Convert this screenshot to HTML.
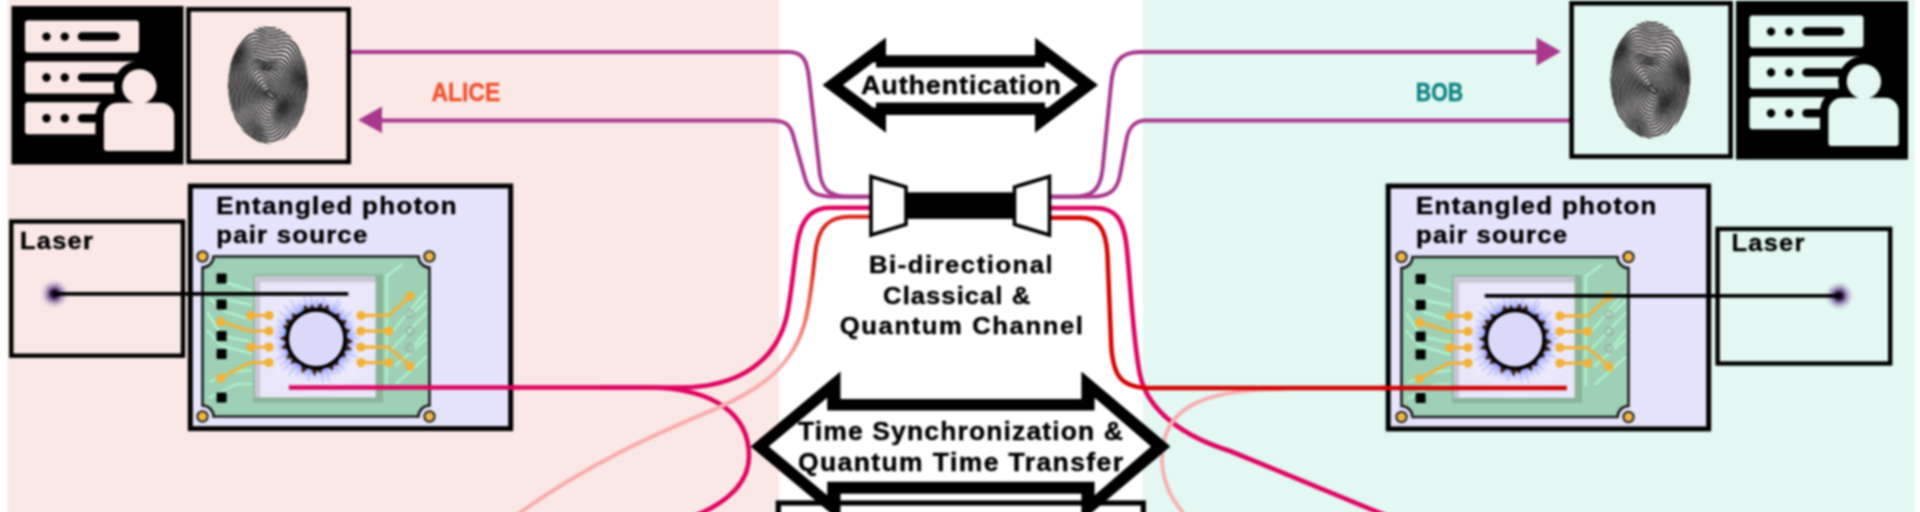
<!DOCTYPE html><html><head><meta charset="utf-8"><style>
html,body{margin:0;padding:0;width:1920px;height:512px;overflow:hidden;background:#fff;position:relative}
svg{display:block;filter:blur(0.8px)}
text{font-family:"Liberation Sans",sans-serif;font-weight:bold}
</style></head><body>
<svg width="1960" height="552" viewBox="-20 -20 1960 552" style="position:absolute;left:-20px;top:-20px">
<defs>
<radialGradient id="glow" cx="0.5" cy="0.5" r="0.5">
<stop offset="0" stop-color="#ffffff"/><stop offset="0.5" stop-color="#f2f0fd"/><stop offset="1" stop-color="#e9e6fa"/></radialGradient>
<radialGradient id="halo" cx="0.5" cy="0.5" r="0.5">
<stop offset="0.6" stop-color="#5566ff" stop-opacity="0.8"/><stop offset="0.7" stop-color="#7080ff" stop-opacity="0.45"/><stop offset="0.85" stop-color="#a4acff" stop-opacity="0.15"/><stop offset="1" stop-color="#e0e0ff" stop-opacity="0"/></radialGradient>
<radialGradient id="laser" cx="0.5" cy="0.5" r="0.5">
<stop offset="0" stop-color="#0c0610"/><stop offset="0.25" stop-color="#3a2250"/><stop offset="0.5" stop-color="#6a4c90" stop-opacity="0.6"/><stop offset="0.8" stop-color="#a890c8" stop-opacity="0.25"/><stop offset="1" stop-color="#c8b8e8" stop-opacity="0"/></radialGradient>
<clipPath id="fpclip"><ellipse cx="0" cy="0" rx="40" ry="58.5"/></clipPath>
<linearGradient id="redfade" gradientUnits="userSpaceOnUse" x1="0" y1="262" x2="0" y2="365">
<stop offset="0" stop-color="#d9261c"/><stop offset="0.45" stop-color="#ee6658"/><stop offset="1" stop-color="#f9abae"/></linearGradient>

<g id="icon">
<rect x="0" y="0" width="172" height="158.5" fill="#000"/>
<rect x="13.5" y="14.6" width="114" height="32" rx="3" fill="currentColor"/>
<circle cx="35" cy="30.6" r="4.2" fill="#000"/><circle cx="53.3" cy="30.6" r="4.2" fill="#000"/>
<line x1="70.5" y1="30.6" x2="104" y2="30.6" stroke="#000" stroke-width="8.5" stroke-linecap="round"/>
<rect x="13.5" y="55.5" width="114" height="32" rx="3" fill="currentColor"/>
<circle cx="35" cy="71.5" r="4.2" fill="#000"/><circle cx="53.3" cy="71.5" r="4.2" fill="#000"/>
<line x1="70.5" y1="71.5" x2="104" y2="71.5" stroke="#000" stroke-width="8.5" stroke-linecap="round"/>
<rect x="13.5" y="96.3" width="114" height="32" rx="3" fill="currentColor"/>
<circle cx="35" cy="112.3" r="4.2" fill="#000"/><circle cx="53.3" cy="112.3" r="4.2" fill="#000"/>
<line x1="70.5" y1="112.3" x2="104" y2="112.3" stroke="#000" stroke-width="8.5" stroke-linecap="round"/>
<circle cx="127.9" cy="80.5" r="25.7" fill="#000"/>
<rect x="83.9" y="88.3" width="87.3" height="65.2" rx="22.0" fill="#000"/>
<circle cx="127.9" cy="80.5" r="17.2" fill="currentColor"/>
<path d="M92.4,110.3 A13.5,13.5 0 0 1 105.9,96.8 L149.2,96.8 A13.5,13.5 0 0 1 162.7,110.3 L162.7,142 A3,3 0 0 1 159.7,145 L95.4,145 A3,3 0 0 1 92.4,142 Z" fill="currentColor"/>
</g>
<g id="fp"><g clip-path="url(#fpclip)">
<ellipse cx="0" cy="0" rx="40" ry="58.5" fill="#eeeaea"/>
<polyline points="6.6,10.2 6.7,10.5 6.8,10.8 6.8,11.1 6.9,11.5 6.9,11.8 6.8,12.1 6.8,12.5 6.7,12.8 6.6,13.1 6.5,13.4 6.3,13.7 6.2,14.0 6.0,14.2 5.8,14.4 5.6,14.6 5.3,14.7 5.1,14.8 4.9,14.9 4.6,15.0 4.4,15.0 4.2,15.0 4.0,15.0 3.7,14.9 3.5,14.8 3.3,14.7 3.2,14.6 3.0,14.5 2.8,14.4 2.7,14.2 2.5,14.1 2.4,13.9 2.3,13.8 2.1,13.6 2.0,13.5 1.9,13.3 1.8,13.2 1.7,13.1 1.6,13.0 1.5,12.9 1.4,12.8 1.3,12.7 1.1,12.6 1.0,12.5 0.9,12.4 0.8,12.3 0.6,12.2 0.5,12.0 0.3,11.9 0.2,11.8 -0.0,11.6 -0.2,11.4 -0.3,11.3 -0.5,11.0 -0.7,10.8 -0.8,10.6 -1.0,10.3 -1.1,10.0 -1.3,9.7 -1.4,9.4 -1.5,9.1 -1.6,8.8 -1.7,8.4 -1.8,8.1 -1.9,7.7 -1.9,7.4 -1.9,7.1 -1.9,6.8 -1.9,6.5 -1.8,6.2 -1.8,5.9 -1.7,5.7 -1.6,5.5 -1.5,5.3 -1.3,5.1 -1.2,5.0 -1.0,4.9 -0.8,4.8 -0.6,4.8 -0.4,4.7 -0.1,4.8 0.1,4.8 0.3,4.9 0.5,4.9 0.8,5.0 1.0,5.2 1.2,5.3 1.4,5.4 1.6,5.6 1.8,5.7 2.0,5.9 2.1,6.0 2.3,6.2 2.5,6.3 2.6,6.4 2.7,6.6 2.9,6.7 3.0,6.8 3.1,6.9 3.3,7.0 3.4,7.1 3.5,7.2 3.6,7.3 3.8,7.4 3.9,7.4 4.1,7.5 4.2,7.6 4.4,7.7 4.6,7.8 4.7,7.9 4.9,8.0 5.1,8.2 5.3,8.3 5.5,8.5 5.7,8.7 5.8,8.9 6.0,9.1 6.2,9.4 6.3,9.6 6.5,9.9 6.6,10.2" fill="#777" stroke="#000" stroke-width="1.6" stroke-linejoin="round"/>
<polyline points="9.0,10.0 9.1,10.5 9.2,11.0 9.2,11.5 9.2,12.0 9.2,12.5 9.1,13.0 9.0,13.5 8.8,14.0 8.7,14.5 8.4,15.0 8.2,15.4 7.9,15.9 7.6,16.3 7.3,16.6 7.0,17.0 6.6,17.3 6.3,17.5 5.9,17.7 5.5,17.9 5.2,18.0 4.8,18.1 4.5,18.2 4.1,18.2 3.8,18.2 3.5,18.1 3.2,18.1 2.9,17.9 2.6,17.8 2.3,17.7 2.1,17.5 1.8,17.3 1.6,17.2 1.3,17.0 1.1,16.8 0.9,16.6 0.7,16.3 0.5,16.1 0.3,15.9 0.1,15.7 -0.1,15.5 -0.3,15.3 -0.5,15.0 -0.7,14.8 -0.9,14.6 -1.1,14.3 -1.3,14.0 -1.5,13.7 -1.7,13.4 -2.0,13.1 -2.2,12.8 -2.4,12.4 -2.6,12.1 -2.8,11.7 -3.0,11.2 -3.2,10.8 -3.3,10.4 -3.5,9.9 -3.7,9.4 -3.8,8.9 -3.9,8.4 -4.1,7.9 -4.2,7.4 -4.2,6.8 -4.3,6.3 -4.3,5.8 -4.4,5.3 -4.4,4.9 -4.3,4.4 -4.3,4.0 -4.2,3.6 -4.1,3.2 -4.0,2.9 -3.8,2.6 -3.6,2.3 -3.4,2.1 -3.2,1.9 -3.0,1.7 -2.7,1.6 -2.4,1.5 -2.1,1.5 -1.8,1.5 -1.5,1.5 -1.2,1.5 -0.8,1.6 -0.5,1.7 -0.2,1.8 0.2,1.9 0.5,2.1 0.8,2.2 1.1,2.4 1.4,2.6 1.7,2.8 2.0,2.9 2.3,3.1 2.6,3.3 2.9,3.5 3.2,3.7 3.4,3.8 3.7,4.0 4.0,4.2 4.2,4.4 4.5,4.6 4.8,4.7 5.0,4.9 5.3,5.1 5.6,5.3 5.9,5.6 6.1,5.8 6.4,6.0 6.7,6.3 7.0,6.6 7.3,6.9 7.5,7.2 7.8,7.5 8.1,7.9 8.3,8.2 8.5,8.6 8.7,9.1 8.9,9.5 9.0,10.0" fill="none" stroke="#000" stroke-width="1.6" stroke-linejoin="round"/>
<polyline points="11.4,9.5 11.5,10.2 11.6,10.9 11.6,11.5 11.6,12.2 11.5,12.9 11.3,13.6 11.2,14.3 10.9,15.0 10.6,15.7 10.3,16.4 9.9,17.0 9.5,17.6 9.1,18.2 8.6,18.7 8.2,19.2 7.7,19.7 7.2,20.1 6.7,20.4 6.2,20.7 5.7,21.0 5.2,21.2 4.7,21.3 4.2,21.4 3.7,21.5 3.3,21.5 2.9,21.5 2.4,21.4 2.0,21.3 1.6,21.1 1.3,21.0 0.9,20.8 0.6,20.5 0.2,20.3 -0.1,20.0 -0.4,19.8 -0.7,19.5 -1.0,19.2 -1.3,18.8 -1.6,18.5 -1.9,18.2 -2.1,17.8 -2.4,17.5 -2.7,17.1 -2.9,16.7 -3.2,16.3 -3.4,15.8 -3.7,15.4 -3.9,14.9 -4.2,14.4 -4.4,13.9 -4.7,13.3 -4.9,12.8 -5.1,12.2 -5.3,11.6 -5.5,11.0 -5.7,10.3 -5.9,9.7 -6.1,9.0 -6.2,8.3 -6.4,7.6 -6.5,6.9 -6.6,6.2 -6.7,5.5 -6.8,4.9 -6.8,4.2 -6.9,3.5 -6.9,2.9 -6.8,2.3 -6.8,1.7 -6.7,1.2 -6.6,0.7 -6.5,0.2 -6.3,-0.2 -6.1,-0.5 -5.8,-0.9 -5.6,-1.2 -5.3,-1.4 -4.9,-1.6 -4.6,-1.7 -4.2,-1.8 -3.8,-1.9 -3.4,-1.9 -3.0,-1.9 -2.5,-1.8 -2.1,-1.8 -1.7,-1.7 -1.2,-1.5 -0.8,-1.4 -0.3,-1.2 0.1,-1.0 0.6,-0.8 1.0,-0.6 1.4,-0.4 1.9,-0.2 2.3,0.0 2.7,0.2 3.1,0.5 3.5,0.7 3.9,1.0 4.4,1.2 4.8,1.5 5.2,1.8 5.6,2.0 6.0,2.3 6.4,2.6 6.8,2.9 7.2,3.2 7.6,3.6 8.0,3.9 8.4,4.3 8.8,4.7 9.2,5.2 9.6,5.6 9.9,6.1 10.2,6.6 10.5,7.1 10.8,7.7 11.1,8.3 11.3,8.9 11.4,9.5" fill="none" stroke="#000" stroke-width="1.6" stroke-linejoin="round"/>
<polyline points="13.8,8.9 14.0,9.7 14.0,10.6 14.0,11.5 13.9,12.3 13.8,13.2 13.5,14.1 13.3,15.0 12.9,15.9 12.5,16.8 12.1,17.6 11.6,18.4 11.0,19.2 10.5,20.0 9.9,20.7 9.3,21.4 8.6,22.0 8.0,22.6 7.3,23.1 6.7,23.5 6.0,23.9 5.4,24.2 4.8,24.5 4.1,24.7 3.5,24.8 2.9,24.9 2.4,24.9 1.8,24.8 1.3,24.7 0.8,24.6 0.3,24.4 -0.2,24.2 -0.7,23.9 -1.1,23.6 -1.6,23.3 -2.0,23.0 -2.4,22.6 -2.8,22.2 -3.1,21.7 -3.5,21.3 -3.8,20.8 -4.2,20.3 -4.5,19.8 -4.8,19.3 -5.1,18.7 -5.4,18.2 -5.7,17.6 -6.0,17.0 -6.3,16.3 -6.5,15.6 -6.8,15.0 -7.0,14.2 -7.3,13.5 -7.5,12.7 -7.7,12.0 -7.9,11.2 -8.1,10.3 -8.3,9.5 -8.5,8.6 -8.6,7.8 -8.8,6.9 -8.9,6.0 -9.0,5.2 -9.2,4.3 -9.3,3.5 -9.3,2.6 -9.4,1.8 -9.4,1.0 -9.4,0.2 -9.4,-0.5 -9.3,-1.2 -9.2,-1.8 -9.0,-2.4 -8.8,-2.9 -8.6,-3.4 -8.3,-3.8 -8.0,-4.2 -7.6,-4.5 -7.2,-4.8 -6.8,-5.0 -6.3,-5.2 -5.8,-5.3 -5.3,-5.3 -4.8,-5.3 -4.3,-5.3 -3.7,-5.2 -3.2,-5.1 -2.6,-5.0 -2.0,-4.9 -1.5,-4.7 -0.9,-4.5 -0.3,-4.3 0.2,-4.0 0.8,-3.8 1.3,-3.6 1.9,-3.3 2.5,-3.0 3.0,-2.7 3.6,-2.4 4.1,-2.1 4.7,-1.8 5.2,-1.5 5.8,-1.1 6.3,-0.8 6.9,-0.4 7.4,-0.0 7.9,0.4 8.5,0.8 9.0,1.2 9.6,1.7 10.1,2.2 10.6,2.7 11.1,3.3 11.6,3.9 12.0,4.5 12.4,5.2 12.8,5.9 13.1,6.6 13.4,7.3 13.7,8.1 13.8,8.9" fill="none" stroke="#000" stroke-width="1.6" stroke-linejoin="round"/>
<polyline points="16.2,8.2 16.4,9.2 16.4,10.2 16.4,11.3 16.2,12.3 16.0,13.4 15.7,14.5 15.3,15.6 14.9,16.7 14.3,17.7 13.8,18.7 13.1,19.8 12.5,20.7 11.7,21.7 11.0,22.6 10.3,23.4 9.5,24.2 8.7,24.9 7.9,25.6 7.1,26.2 6.3,26.7 5.6,27.2 4.8,27.5 4.0,27.8 3.3,28.1 2.6,28.2 1.9,28.3 1.2,28.3 0.5,28.2 -0.2,28.1 -0.8,27.9 -1.4,27.6 -2.0,27.3 -2.5,27.0 -3.1,26.6 -3.6,26.1 -4.1,25.7 -4.6,25.2 -5.1,24.6 -5.5,24.1 -5.9,23.5 -6.3,22.8 -6.7,22.2 -7.1,21.5 -7.5,20.8 -7.8,20.1 -8.1,19.3 -8.4,18.5 -8.7,17.7 -9.0,16.9 -9.2,16.1 -9.5,15.2 -9.7,14.3 -9.9,13.3 -10.1,12.4 -10.3,11.4 -10.5,10.4 -10.7,9.4 -10.9,8.4 -11.0,7.4 -11.2,6.3 -11.3,5.3 -11.5,4.2 -11.6,3.2 -11.8,2.2 -11.9,1.2 -11.9,0.2 -12.0,-0.8 -12.0,-1.7 -12.0,-2.6 -11.9,-3.5 -11.8,-4.3 -11.6,-5.0 -11.3,-5.7 -11.1,-6.3 -10.7,-6.8 -10.3,-7.3 -9.9,-7.7 -9.4,-8.0 -8.9,-8.3 -8.3,-8.5 -7.7,-8.7 -7.1,-8.8 -6.5,-8.8 -5.9,-8.8 -5.2,-8.7 -4.5,-8.6 -3.9,-8.5 -3.2,-8.3 -2.5,-8.2 -1.8,-7.9 -1.1,-7.7 -0.4,-7.5 0.2,-7.2 0.9,-6.9 1.6,-6.6 2.3,-6.3 3.0,-6.0 3.6,-5.6 4.3,-5.3 5.0,-4.9 5.7,-4.5 6.3,-4.1 7.0,-3.7 7.7,-3.3 8.4,-2.8 9.0,-2.3 9.7,-1.8 10.4,-1.2 11.0,-0.7 11.7,-0.0 12.3,0.6 12.9,1.3 13.5,2.0 14.1,2.8 14.6,3.6 15.0,4.4 15.4,5.3 15.8,6.2 16.0,7.2 16.2,8.2" fill="none" stroke="#000" stroke-width="1.6" stroke-linejoin="round"/>
<polyline points="18.7,7.4 18.8,8.6 18.8,9.8 18.7,11.1 18.5,12.3 18.2,13.6 17.8,14.9 17.3,16.1 16.8,17.4 16.1,18.6 15.4,19.8 14.6,21.0 13.8,22.2 13.0,23.3 12.1,24.4 11.2,25.4 10.3,26.4 9.4,27.3 8.5,28.1 7.6,28.8 6.7,29.5 5.8,30.1 4.9,30.6 4.0,31.0 3.2,31.3 2.3,31.5 1.5,31.7 0.7,31.7 -0.2,31.6 -0.9,31.5 -1.7,31.3 -2.4,31.0 -3.2,30.7 -3.9,30.3 -4.5,29.8 -5.2,29.3 -5.8,28.7 -6.4,28.1 -7.0,27.5 -7.5,26.8 -8.0,26.1 -8.5,25.3 -9.0,24.5 -9.4,23.7 -9.8,22.9 -10.2,22.0 -10.6,21.1 -10.9,20.2 -11.2,19.2 -11.5,18.3 -11.7,17.2 -12.0,16.2 -12.2,15.2 -12.4,14.1 -12.6,13.0 -12.7,11.9 -12.9,10.7 -13.1,9.5 -13.3,8.4 -13.4,7.2 -13.6,5.9 -13.8,4.7 -13.9,3.5 -14.1,2.3 -14.3,1.1 -14.4,-0.1 -14.5,-1.3 -14.6,-2.4 -14.6,-3.6 -14.6,-4.6 -14.5,-5.6 -14.4,-6.6 -14.1,-7.5 -13.9,-8.3 -13.5,-9.1 -13.1,-9.7 -12.6,-10.3 -12.1,-10.8 -11.5,-11.3 -10.8,-11.6 -10.2,-11.9 -9.5,-12.1 -8.7,-12.2 -8.0,-12.3 -7.2,-12.3 -6.4,-12.2 -5.6,-12.1 -4.8,-12.0 -4.0,-11.8 -3.2,-11.6 -2.4,-11.4 -1.6,-11.1 -0.8,-10.9 -0.0,-10.6 0.8,-10.3 1.6,-9.9 2.3,-9.6 3.1,-9.2 3.9,-8.9 4.7,-8.5 5.4,-8.1 6.2,-7.6 7.0,-7.2 7.8,-6.7 8.6,-6.2 9.4,-5.7 10.1,-5.1 10.9,-4.5 11.7,-3.8 12.5,-3.1 13.3,-2.4 14.0,-1.6 14.7,-0.8 15.4,0.1 16.1,1.0 16.7,2.0 17.2,3.0 17.7,4.0 18.1,5.1 18.4,6.3 18.7,7.4" fill="none" stroke="#000" stroke-width="1.6" stroke-linejoin="round"/>
<polyline points="21.1,6.7 21.2,8.1 21.2,9.5 21.1,10.9 20.8,12.4 20.4,13.8 19.9,15.2 19.3,16.7 18.6,18.1 17.8,19.5 17.0,20.9 16.1,22.3 15.2,23.6 14.2,24.9 13.2,26.1 12.2,27.3 11.2,28.5 10.2,29.5 9.2,30.5 8.2,31.4 7.2,32.2 6.2,33.0 5.2,33.6 4.2,34.1 3.3,34.5 2.3,34.8 1.4,35.0 0.4,35.1 -0.5,35.1 -1.4,35.0 -2.3,34.8 -3.2,34.5 -4.1,34.1 -4.9,33.6 -5.7,33.1 -6.5,32.5 -7.3,31.8 -8.0,31.1 -8.7,30.3 -9.4,29.5 -10.0,28.7 -10.7,27.8 -11.2,26.9 -11.7,25.9 -12.2,25.0 -12.7,24.0 -13.1,22.9 -13.4,21.9 -13.8,20.8 -14.1,19.7 -14.3,18.6 -14.5,17.4 -14.7,16.2 -14.9,15.0 -15.1,13.8 -15.2,12.5 -15.4,11.2 -15.5,9.9 -15.7,8.5 -15.8,7.2 -16.0,5.8 -16.2,4.4 -16.4,3.0 -16.6,1.6 -16.8,0.2 -17.0,-1.2 -17.1,-2.6 -17.2,-3.9 -17.2,-5.2 -17.2,-6.5 -17.1,-7.7 -16.9,-8.8 -16.7,-9.9 -16.3,-10.9 -15.9,-11.8 -15.3,-12.6 -14.7,-13.3 -14.1,-13.9 -13.3,-14.4 -12.6,-14.7 -11.7,-15.0 -10.9,-15.2 -10.0,-15.3 -9.1,-15.3 -8.2,-15.3 -7.2,-15.2 -6.3,-15.1 -5.4,-15.0 -4.4,-14.9 -3.5,-14.7 -2.6,-14.5 -1.7,-14.4 -0.8,-14.2 0.1,-14.0 1.0,-13.6 1.8,-13.3 2.7,-12.9 3.6,-12.6 4.4,-12.2 5.3,-11.7 6.1,-11.3 7.0,-10.8 7.8,-10.3 8.7,-9.8 9.6,-9.2 10.4,-8.6 11.3,-7.9 12.2,-7.2 13.1,-6.4 13.9,-5.6 14.8,-4.8 15.7,-3.9 16.5,-2.9 17.3,-1.8 18.1,-0.8 18.8,0.4 19.4,1.6 20.0,2.8 20.5,4.1 20.8,5.4 21.1,6.7" fill="none" stroke="#000" stroke-width="1.6" stroke-linejoin="round"/>
<polyline points="23.5,6.2 23.6,7.8 23.6,9.4 23.4,10.9 23.1,12.6 22.6,14.2 22.0,15.8 21.2,17.4 20.4,18.9 19.5,20.5 18.5,22.0 17.5,23.6 16.5,25.0 15.4,26.5 14.4,27.9 13.3,29.2 12.2,30.5 11.2,31.7 10.1,32.9 9.0,33.9 8.0,34.9 6.9,35.8 5.8,36.6 4.8,37.2 3.7,37.7 2.7,38.1 1.6,38.4 0.5,38.5 -0.5,38.5 -1.6,38.4 -2.6,38.2 -3.6,37.9 -4.6,37.4 -5.6,36.9 -6.6,36.3 -7.6,35.6 -8.5,34.9 -9.4,34.0 -10.3,33.2 -11.1,32.3 -11.9,31.3 -12.6,30.3 -13.3,29.3 -13.9,28.2 -14.5,27.1 -15.1,26.0 -15.6,24.9 -16.0,23.7 -16.3,22.5 -16.7,21.3 -16.9,20.1 -17.1,18.8 -17.3,17.5 -17.5,16.2 -17.6,14.8 -17.7,13.4 -17.8,12.0 -17.9,10.5 -18.1,9.0 -18.2,7.5 -18.4,5.9 -18.6,4.3 -18.9,2.8 -19.1,1.2 -19.3,-0.4 -19.5,-2.0 -19.7,-3.6 -19.8,-5.1 -19.9,-6.6 -19.8,-8.1 -19.7,-9.5 -19.5,-10.8 -19.1,-12.1 -18.6,-13.3 -18.1,-14.3 -17.4,-15.2 -16.7,-16.0 -15.8,-16.6 -14.9,-17.1 -14.0,-17.5 -13.0,-17.8 -12.0,-17.9 -10.9,-18.0 -9.8,-18.0 -8.7,-17.9 -7.7,-17.7 -6.6,-17.6 -5.5,-17.4 -4.5,-17.1 -3.4,-16.9 -2.4,-16.7 -1.4,-16.5 -0.4,-16.3 0.6,-16.1 1.6,-15.9 2.5,-15.7 3.4,-15.5 4.4,-15.2 5.3,-15.0 6.2,-14.7 7.1,-14.4 8.0,-14.0 8.9,-13.5 9.8,-12.9 10.7,-12.2 11.6,-11.5 12.6,-10.8 13.5,-10.0 14.5,-9.1 15.4,-8.1 16.4,-7.1 17.4,-6.0 18.3,-4.9 19.2,-3.7 20.1,-2.4 20.9,-1.1 21.6,0.3 22.3,1.7 22.8,3.2 23.2,4.7 23.5,6.2" fill="none" stroke="#000" stroke-width="1.6" stroke-linejoin="round"/>
<polyline points="25.9,5.9 26.0,7.6 26.0,9.4 25.7,11.2 25.3,12.9 24.7,14.7 24.0,16.5 23.2,18.2 22.2,19.9 21.2,21.6 20.1,23.3 19.0,24.9 17.9,26.5 16.8,28.1 15.6,29.7 14.5,31.1 13.4,32.6 12.3,33.9 11.2,35.2 10.1,36.5 9.0,37.6 7.9,38.6 6.8,39.5 5.7,40.3 4.5,40.9 3.4,41.4 2.2,41.7 1.1,41.9 -0.1,42.0 -1.3,41.9 -2.4,41.7 -3.6,41.3 -4.8,40.8 -5.9,40.2 -7.1,39.5 -8.2,38.8 -9.3,37.9 -10.4,37.0 -11.4,36.0 -12.5,35.0 -13.4,33.9 -14.3,32.8 -15.2,31.7 -16.0,30.5 -16.7,29.4 -17.4,28.2 -18.0,26.9 -18.5,25.7 -18.9,24.4 -19.3,23.1 -19.5,21.8 -19.8,20.4 -19.9,19.0 -20.0,17.5 -20.1,16.0 -20.2,14.5 -20.3,12.9 -20.4,11.3 -20.5,9.7 -20.7,8.0 -20.8,6.3 -21.1,4.5 -21.3,2.8 -21.6,1.0 -21.9,-0.8 -22.1,-2.6 -22.3,-4.4 -22.5,-6.1 -22.5,-7.8 -22.4,-9.5 -22.2,-11.1 -21.9,-12.7 -21.4,-14.2 -20.9,-15.5 -20.1,-16.7 -19.3,-17.7 -18.4,-18.6 -17.4,-19.4 -16.3,-20.0 -15.1,-20.4 -13.9,-20.7 -12.7,-20.8 -11.5,-20.8 -10.2,-20.7 -9.0,-20.5 -7.7,-20.2 -6.5,-20.0 -5.3,-19.7 -4.1,-19.4 -2.9,-19.1 -1.8,-18.9 -0.7,-18.7 0.4,-18.4 1.5,-18.3 2.5,-18.1 3.6,-17.9 4.5,-17.7 5.5,-17.5 6.5,-17.3 7.4,-17.1 8.4,-16.8 9.3,-16.5 10.2,-16.1 11.1,-15.6 12.1,-15.1 13.0,-14.4 14.0,-13.6 15.0,-12.7 16.0,-11.7 17.0,-10.6 18.0,-9.4 19.0,-8.1 20.1,-6.8 21.1,-5.4 22.1,-4.0 23.0,-2.4 23.8,-0.8 24.5,0.8 25.1,2.4 25.6,4.2 25.9,5.9" fill="none" stroke="#000" stroke-width="1.6" stroke-linejoin="round"/>
<polyline points="28.3,5.8 28.4,7.7 28.4,9.7 28.0,11.6 27.5,13.6 26.9,15.5 26.0,17.4 25.0,19.2 24.0,21.1 22.9,22.9 21.7,24.7 20.5,26.4 19.4,28.2 18.2,29.9 17.1,31.5 15.9,33.1 14.8,34.7 13.7,36.2 12.6,37.6 11.5,38.9 10.4,40.2 9.3,41.3 8.1,42.4 6.9,43.3 5.7,44.0 4.5,44.6 3.3,45.1 2.0,45.3 0.7,45.4 -0.6,45.3 -1.9,45.1 -3.2,44.7 -4.5,44.2 -5.8,43.5 -7.2,42.8 -8.5,41.9 -9.8,41.0 -11.0,39.9 -12.3,38.9 -13.5,37.8 -14.6,36.6 -15.8,35.4 -16.8,34.2 -17.8,33.0 -18.7,31.7 -19.5,30.4 -20.2,29.1 -20.9,27.8 -21.4,26.5 -21.8,25.1 -22.1,23.6 -22.4,22.2 -22.5,20.7 -22.7,19.1 -22.7,17.5 -22.7,15.8 -22.8,14.1 -22.8,12.4 -22.9,10.6 -23.1,8.7 -23.3,6.8 -23.5,4.9 -23.8,3.0 -24.1,1.0 -24.4,-1.0 -24.7,-3.0 -25.0,-5.0 -25.1,-6.9 -25.1,-8.9 -25.0,-10.7 -24.7,-12.6 -24.3,-14.4 -23.7,-16.0 -22.9,-17.5 -22.0,-18.9 -21.0,-20.2 -19.9,-21.3 -18.6,-22.1 -17.3,-22.8 -16.0,-23.3 -14.6,-23.6 -13.2,-23.7 -11.8,-23.6 -10.3,-23.4 -8.9,-23.1 -7.5,-22.7 -6.1,-22.3 -4.8,-21.9 -3.5,-21.6 -2.2,-21.3 -0.9,-21.0 0.3,-20.8 1.5,-20.6 2.7,-20.5 3.8,-20.4 4.9,-20.3 6.0,-20.2 7.0,-20.1 8.0,-19.9 9.0,-19.7 9.9,-19.5 10.9,-19.1 11.8,-18.7 12.7,-18.3 13.7,-17.7 14.6,-17.0 15.6,-16.2 16.6,-15.2 17.6,-14.2 18.6,-12.9 19.7,-11.6 20.8,-10.1 21.9,-8.6 23.0,-7.0 24.0,-5.3 25.0,-3.5 26.0,-1.7 26.8,0.1 27.5,2.0 28.0,3.9 28.3,5.8" fill="none" stroke="#000" stroke-width="1.6" stroke-linejoin="round"/>
<polyline points="30.7,6.0 30.9,8.1 30.7,10.2 30.4,12.3 29.8,14.4 29.0,16.5 28.0,18.5 26.9,20.5 25.8,22.5 24.6,24.4 23.3,26.3 22.1,28.1 20.9,29.9 19.8,31.7 18.6,33.4 17.5,35.1 16.5,36.8 15.4,38.4 14.3,39.9 13.2,41.4 12.1,42.8 10.9,44.1 9.7,45.3 8.5,46.3 7.2,47.2 5.9,47.9 4.6,48.4 3.2,48.7 1.8,48.9 0.4,48.8 -1.0,48.6 -2.5,48.1 -3.9,47.6 -5.4,46.8 -6.9,46.0 -8.4,45.0 -9.9,44.0 -11.3,42.9 -12.8,41.7 -14.2,40.5 -15.6,39.3 -16.9,38.0 -18.2,36.8 -19.4,35.5 -20.5,34.2 -21.5,32.8 -22.4,31.5 -23.1,30.1 -23.8,28.7 -24.3,27.2 -24.7,25.7 -25.0,24.1 -25.2,22.5 -25.3,20.9 -25.3,19.1 -25.3,17.3 -25.3,15.5 -25.3,13.6 -25.4,11.6 -25.5,9.6 -25.7,7.5 -25.9,5.4 -26.3,3.3 -26.6,1.1 -27.0,-1.0 -27.3,-3.2 -27.6,-5.4 -27.7,-7.6 -27.7,-9.7 -27.5,-11.8 -27.1,-13.9 -26.5,-15.9 -25.7,-17.7 -24.8,-19.5 -23.7,-21.1 -22.5,-22.6 -21.1,-23.8 -19.7,-24.9 -18.2,-25.7 -16.6,-26.2 -15.0,-26.5 -13.5,-26.5 -11.9,-26.4 -10.3,-26.0 -8.7,-25.6 -7.2,-25.1 -5.6,-24.6 -4.1,-24.1 -2.7,-23.7 -1.2,-23.4 0.2,-23.2 1.5,-23.0 2.8,-22.9 4.1,-22.9 5.3,-22.9 6.5,-22.9 7.6,-22.9 8.7,-22.9 9.8,-22.8 10.8,-22.6 11.8,-22.4 12.7,-22.1 13.7,-21.7 14.6,-21.1 15.5,-20.5 16.4,-19.6 17.3,-18.7 18.3,-17.6 19.3,-16.4 20.3,-15.0 21.4,-13.5 22.5,-11.9 23.7,-10.1 24.8,-8.3 26.0,-6.4 27.1,-4.4 28.1,-2.4 29.1,-0.3 29.8,1.8 30.4,3.9 30.7,6.0" fill="none" stroke="#000" stroke-width="1.6" stroke-linejoin="round"/>
<polyline points="33.2,6.4 33.3,8.7 33.1,11.0 32.7,13.3 32.0,15.5 31.1,17.7 30.0,19.9 28.8,22.0 27.6,24.1 26.3,26.1 25.0,28.1 23.8,30.0 22.6,31.9 21.5,33.7 20.4,35.5 19.4,37.3 18.3,39.0 17.3,40.7 16.2,42.3 15.1,43.9 14.0,45.4 12.8,46.8 11.6,48.1 10.3,49.3 8.9,50.3 7.5,51.1 6.1,51.7 4.6,52.1 3.1,52.3 1.6,52.3 0.0,52.0 -1.6,51.6 -3.2,50.9 -4.8,50.2 -6.5,49.2 -8.1,48.2 -9.7,47.1 -11.4,45.9 -13.0,44.6 -14.6,43.3 -16.2,42.0 -17.8,40.7 -19.2,39.4 -20.7,38.1 -22.0,36.7 -23.2,35.3 -24.3,33.9 -25.3,32.5 -26.1,31.0 -26.8,29.5 -27.3,27.9 -27.6,26.3 -27.8,24.5 -27.9,22.7 -27.9,20.9 -27.9,18.9 -27.8,16.9 -27.8,14.9 -27.8,12.7 -27.9,10.5 -28.1,8.3 -28.4,6.0 -28.8,3.7 -29.2,1.4 -29.6,-1.0 -29.9,-3.4 -30.2,-5.8 -30.3,-8.1 -30.2,-10.5 -29.9,-12.8 -29.4,-15.0 -28.6,-17.2 -27.7,-19.3 -26.5,-21.3 -25.2,-23.2 -23.7,-24.8 -22.2,-26.3 -20.5,-27.5 -18.8,-28.4 -17.1,-29.1 -15.4,-29.5 -13.6,-29.7 -11.9,-29.7 -10.2,-29.4 -8.5,-29.0 -6.8,-28.5 -5.1,-27.9 -3.5,-27.3 -1.9,-26.8 -0.4,-26.4 1.2,-26.1 2.7,-25.9 4.1,-25.8 5.5,-25.8 6.8,-25.8 8.1,-25.9 9.4,-25.9 10.6,-26.0 11.7,-26.0 12.8,-25.9 13.8,-25.7 14.8,-25.3 15.7,-24.8 16.6,-24.2 17.5,-23.4 18.4,-22.4 19.3,-21.3 20.2,-20.0 21.2,-18.6 22.2,-17.0 23.2,-15.3 24.4,-13.4 25.5,-11.4 26.8,-9.4 28.0,-7.2 29.2,-5.0 30.3,-2.8 31.3,-0.5 32.1,1.8 32.8,4.1 33.2,6.4" fill="none" stroke="#000" stroke-width="1.6" stroke-linejoin="round"/>
<polyline points="35.6,7.0 35.7,9.5 35.5,12.0 34.9,14.4 34.2,16.8 33.1,19.1 32.0,21.4 30.7,23.7 29.4,25.9 28.1,28.0 26.8,30.0 25.6,32.0 24.5,34.0 23.4,35.9 22.4,37.7 21.4,39.5 20.4,41.3 19.4,43.0 18.3,44.8 17.2,46.4 16.1,48.0 14.8,49.6 13.5,51.0 12.1,52.3 10.7,53.4 9.2,54.3 7.6,55.0 6.0,55.5 4.4,55.7 2.7,55.7 1.0,55.5 -0.7,55.0 -2.4,54.3 -4.2,53.4 -5.9,52.4 -7.7,51.3 -9.5,50.1 -11.3,48.8 -13.1,47.5 -14.9,46.2 -16.6,44.8 -18.4,43.5 -20.1,42.1 -21.7,40.8 -23.3,39.4 -24.7,38.0 -26.1,36.6 -27.3,35.1 -28.3,33.5 -29.1,31.9 -29.7,30.2 -30.2,28.5 -30.4,26.6 -30.5,24.7 -30.5,22.7 -30.4,20.6 -30.3,18.4 -30.2,16.1 -30.2,13.8 -30.3,11.4 -30.5,9.0 -30.8,6.5 -31.2,4.0 -31.7,1.5 -32.2,-1.0 -32.5,-3.6 -32.8,-6.1 -32.9,-8.6 -32.7,-11.2 -32.3,-13.7 -31.6,-16.1 -30.6,-18.5 -29.5,-20.8 -28.1,-23.1 -26.5,-25.1 -24.9,-27.0 -23.1,-28.7 -21.3,-30.1 -19.4,-31.3 -17.5,-32.2 -15.7,-32.8 -13.8,-33.1 -12.0,-33.1 -10.1,-32.8 -8.3,-32.4 -6.6,-31.9 -4.8,-31.3 -3.1,-30.8 -1.4,-30.3 0.3,-29.9 2.0,-29.6 3.6,-29.5 5.2,-29.5 6.7,-29.6 8.2,-29.7 9.7,-29.8 11.1,-29.9 12.4,-30.0 13.6,-29.9 14.8,-29.7 15.9,-29.3 17.0,-28.8 17.9,-28.2 18.9,-27.4 19.7,-26.4 20.6,-25.2 21.4,-23.9 22.3,-22.4 23.2,-20.7 24.1,-18.8 25.2,-16.9 26.3,-14.8 27.4,-12.5 28.7,-10.2 30.0,-7.9 31.2,-5.4 32.4,-3.0 33.5,-0.5 34.5,2.0 35.2,4.5 35.6,7.0" fill="none" stroke="#000" stroke-width="1.6" stroke-linejoin="round"/>
<polyline points="38.0,7.7 38.1,10.4 37.8,13.1 37.2,15.7 36.3,18.2 35.2,20.7 33.9,23.1 32.6,25.5 31.2,27.8 29.9,30.0 28.7,32.2 27.5,34.2 26.5,36.2 25.5,38.2 24.5,40.0 23.6,41.9 22.6,43.7 21.6,45.5 20.6,47.3 19.4,49.0 18.2,50.7 16.8,52.3 15.4,53.8 13.9,55.2 12.3,56.5 10.7,57.5 9.0,58.3 7.3,58.9 5.5,59.2 3.7,59.2 1.9,58.9 0.1,58.4 -1.8,57.7 -3.6,56.7 -5.5,55.7 -7.4,54.5 -9.3,53.2 -11.2,51.8 -13.1,50.5 -15.0,49.1 -17.0,47.7 -18.9,46.3 -20.8,45.0 -22.6,43.6 -24.4,42.2 -26.1,40.7 -27.6,39.3 -29.1,37.7 -30.3,36.1 -31.3,34.4 -32.1,32.6 -32.7,30.7 -33.0,28.7 -33.2,26.6 -33.1,24.4 -33.0,22.1 -32.9,19.8 -32.7,17.3 -32.7,14.8 -32.7,12.2 -32.9,9.6 -33.3,7.0 -33.7,4.3 -34.2,1.6 -34.7,-1.1 -35.1,-3.8 -35.4,-6.5 -35.4,-9.2 -35.1,-11.9 -34.6,-14.6 -33.7,-17.2 -32.5,-19.8 -31.1,-22.3 -29.5,-24.7 -27.7,-27.0 -25.9,-29.1 -23.9,-31.0 -22.0,-32.7 -20.0,-34.1 -18.0,-35.2 -16.1,-36.0 -14.1,-36.4 -12.2,-36.5 -10.3,-36.4 -8.5,-36.0 -6.6,-35.5 -4.8,-34.9 -2.9,-34.3 -1.1,-33.8 0.7,-33.4 2.5,-33.2 4.3,-33.1 6.0,-33.1 7.7,-33.3 9.4,-33.5 11.0,-33.7 12.6,-33.9 14.0,-34.0 15.4,-33.9 16.8,-33.6 18.0,-33.2 19.2,-32.6 20.2,-31.7 21.2,-30.7 22.1,-29.4 22.9,-28.0 23.7,-26.4 24.5,-24.6 25.4,-22.6 26.2,-20.5 27.2,-18.3 28.2,-15.9 29.4,-13.5 30.6,-10.9 32.0,-8.3 33.3,-5.7 34.6,-3.0 35.8,-0.3 36.8,2.4 37.5,5.1 38.0,7.7" fill="none" stroke="#000" stroke-width="1.6" stroke-linejoin="round"/>
<polyline points="40.4,8.5 40.5,11.3 40.2,14.2 39.5,16.9 38.5,19.7 37.3,22.3 35.9,24.9 34.5,27.4 33.1,29.9 31.8,32.2 30.6,34.4 29.6,36.6 28.6,38.6 27.7,40.6 26.8,42.5 25.9,44.4 25.0,46.2 24.0,48.0 22.8,49.8 21.6,51.6 20.2,53.3 18.7,55.0 17.2,56.7 15.5,58.2 13.7,59.5 11.9,60.7 10.1,61.6 8.2,62.2 6.3,62.6 4.4,62.6 2.4,62.4 0.5,61.8 -1.4,61.0 -3.4,60.0 -5.3,58.9 -7.3,57.6 -9.2,56.2 -11.2,54.8 -13.2,53.4 -15.2,52.0 -17.3,50.6 -19.3,49.2 -21.3,47.9 -23.4,46.5 -25.3,45.1 -27.2,43.6 -29.0,42.1 -30.7,40.5 -32.2,38.7 -33.4,36.9 -34.4,35.0 -35.1,32.9 -35.6,30.7 -35.8,28.4 -35.8,26.0 -35.6,23.6 -35.4,21.0 -35.2,18.3 -35.1,15.6 -35.1,12.8 -35.3,10.0 -35.7,7.2 -36.2,4.3 -36.8,1.5 -37.3,-1.4 -37.7,-4.2 -38.0,-7.1 -37.9,-9.9 -37.5,-12.7 -36.7,-15.5 -35.7,-18.3 -34.3,-21.0 -32.6,-23.7 -30.8,-26.3 -28.9,-28.8 -26.8,-31.1 -24.8,-33.3 -22.7,-35.2 -20.7,-36.8 -18.6,-38.2 -16.7,-39.1 -14.7,-39.7 -12.8,-40.0 -10.9,-39.9 -8.9,-39.6 -7.0,-39.1 -5.1,-38.5 -3.2,-37.8 -1.3,-37.3 0.7,-36.9 2.6,-36.6 4.5,-36.6 6.4,-36.7 8.3,-36.9 10.2,-37.2 12.0,-37.5 13.7,-37.8 15.4,-37.9 17.0,-37.8 18.5,-37.5 20.0,-36.9 21.3,-36.2 22.4,-35.1 23.5,-33.9 24.5,-32.4 25.3,-30.6 26.1,-28.7 26.9,-26.7 27.7,-24.4 28.5,-22.0 29.3,-19.5 30.3,-17.0 31.4,-14.3 32.6,-11.5 34.0,-8.7 35.4,-5.9 36.7,-3.0 38.0,-0.1 39.1,2.7 39.9,5.6 40.4,8.5" fill="none" stroke="#000" stroke-width="1.6" stroke-linejoin="round"/>
<polyline points="42.8,9.2 42.9,12.2 42.5,15.2 41.8,18.2 40.7,21.1 39.3,23.9 37.9,26.7 36.4,29.4 35.0,32.0 33.8,34.4 32.7,36.8 31.7,39.0 30.9,41.2 30.0,43.2 29.2,45.1 28.4,47.0 27.4,48.9 26.3,50.7 25.0,52.5 23.7,54.3 22.1,56.0 20.4,57.8 18.7,59.5 16.8,61.1 14.8,62.6 12.8,63.9 10.8,64.9 8.8,65.6 6.7,66.0 4.6,66.1 2.6,65.8 0.6,65.2 -1.5,64.4 -3.5,63.3 -5.5,62.1 -7.5,60.7 -9.5,59.3 -11.5,57.9 -13.5,56.4 -15.6,55.0 -17.7,53.6 -19.8,52.2 -21.9,50.9 -24.1,49.5 -26.2,48.0 -28.3,46.5 -30.3,44.9 -32.2,43.2 -33.9,41.4 -35.4,39.4 -36.6,37.3 -37.5,35.0 -38.1,32.6 -38.4,30.1 -38.4,27.5 -38.2,24.8 -38.0,22.0 -37.7,19.1 -37.6,16.2 -37.6,13.2 -37.8,10.2 -38.1,7.2 -38.7,4.2 -39.3,1.1 -39.9,-1.9 -40.3,-4.9 -40.5,-7.8 -40.3,-10.8 -39.8,-13.7 -38.8,-16.6 -37.5,-19.5 -35.9,-22.4 -34.1,-25.2 -32.1,-27.9 -30.0,-30.6 -27.8,-33.1 -25.7,-35.5 -23.6,-37.6 -21.5,-39.5 -19.5,-41.1 -17.5,-42.3 -15.6,-43.1 -13.7,-43.6 -11.7,-43.6 -9.8,-43.4 -7.8,-42.9 -5.9,-42.2 -3.9,-41.5 -1.8,-40.8 0.2,-40.3 2.3,-40.0 4.3,-40.0 6.4,-40.1 8.5,-40.4 10.5,-40.8 12.6,-41.2 14.5,-41.5 16.5,-41.6 18.3,-41.5 20.1,-41.2 21.7,-40.5 23.2,-39.6 24.6,-38.4 25.8,-36.9 26.9,-35.1 27.8,-33.1 28.6,-30.9 29.4,-28.6 30.1,-26.1 30.8,-23.4 31.6,-20.7 32.5,-17.9 33.5,-15.0 34.7,-12.0 36.0,-9.1 37.4,-6.0 38.9,-3.0 40.2,0.0 41.4,3.1 42.3,6.1 42.8,9.2" fill="none" stroke="#000" stroke-width="1.6" stroke-linejoin="round"/>
<polyline points="45.2,9.7 45.3,13.0 44.9,16.1 44.0,19.3 42.8,22.4 41.4,25.4 39.9,28.4 38.4,31.3 37.0,34.0 35.9,36.7 34.9,39.2 34.0,41.5 33.2,43.8 32.5,45.9 31.7,47.9 30.8,49.8 29.8,51.6 28.5,53.4 27.1,55.2 25.5,57.0 23.7,58.8 21.8,60.6 19.8,62.4 17.7,64.1 15.6,65.6 13.4,67.0 11.1,68.1 8.9,69.0 6.7,69.4 4.5,69.5 2.3,69.3 0.2,68.7 -1.9,67.8 -4.0,66.6 -6.1,65.3 -8.1,63.9 -10.1,62.4 -12.1,60.9 -14.2,59.5 -16.2,58.1 -18.3,56.7 -20.4,55.3 -22.6,53.9 -24.8,52.5 -27.0,51.1 -29.3,49.5 -31.5,47.8 -33.6,46.0 -35.5,44.0 -37.2,41.8 -38.6,39.5 -39.8,37.0 -40.5,34.4 -40.9,31.6 -41.0,28.8 -40.8,25.8 -40.5,22.8 -40.2,19.6 -40.0,16.5 -40.0,13.3 -40.2,10.1 -40.6,6.9 -41.2,3.7 -41.9,0.5 -42.5,-2.6 -42.9,-5.7 -43.0,-8.8 -42.7,-11.9 -42.0,-14.9 -40.9,-17.9 -39.3,-20.9 -37.5,-23.8 -35.5,-26.7 -33.3,-29.6 -31.1,-32.3 -28.9,-35.0 -26.7,-37.6 -24.6,-40.0 -22.6,-42.1 -20.6,-44.0 -18.7,-45.4 -16.8,-46.5 -14.9,-47.2 -13.0,-47.4 -11.0,-47.3 -9.0,-46.8 -7.0,-46.1 -4.9,-45.2 -2.8,-44.4 -0.6,-43.8 1.6,-43.4 3.8,-43.3 6.0,-43.5 8.3,-43.8 10.5,-44.3 12.8,-44.8 15.0,-45.2 17.1,-45.3 19.2,-45.2 21.2,-44.7 23.1,-43.9 24.9,-42.8 26.5,-41.4 27.9,-39.7 29.2,-37.7 30.2,-35.4 31.1,-33.0 31.9,-30.4 32.6,-27.6 33.2,-24.7 33.9,-21.8 34.7,-18.8 35.6,-15.7 36.8,-12.6 38.1,-9.5 39.5,-6.3 41.0,-3.1 42.5,0.1 43.7,3.3 44.7,6.5 45.2,9.7" fill="none" stroke="#000" stroke-width="1.6" stroke-linejoin="round"/>
<polyline points="47.6,10.1 47.7,13.5 47.2,16.8 46.3,20.2 45.0,23.5 43.5,26.8 41.9,29.9 40.4,33.0 39.1,36.0 38.0,38.8 37.1,41.5 36.4,44.0 35.7,46.4 35.0,48.6 34.2,50.7 33.2,52.6 32.0,54.5 30.6,56.3 29.0,58.0 27.1,59.8 25.1,61.6 22.9,63.4 20.6,65.3 18.3,67.0 15.9,68.7 13.5,70.2 11.1,71.4 8.7,72.3 6.3,72.8 4.0,73.0 1.7,72.7 -0.6,72.1 -2.8,71.1 -4.9,69.9 -7.0,68.5 -9.1,67.1 -11.1,65.5 -13.1,64.0 -15.1,62.6 -17.1,61.2 -19.2,59.8 -21.3,58.4 -23.4,57.1 -25.6,55.6 -27.9,54.1 -30.2,52.5 -32.6,50.6 -34.8,48.7 -37.0,46.5 -38.9,44.1 -40.6,41.5 -42.0,38.8 -42.9,35.9 -43.4,32.9 -43.6,29.8 -43.4,26.6 -43.1,23.3 -42.7,19.9 -42.5,16.6 -42.4,13.2 -42.6,9.8 -43.0,6.4 -43.7,3.0 -44.4,-0.3 -45.1,-3.6 -45.5,-6.8 -45.5,-10.0 -45.1,-13.2 -44.2,-16.3 -42.8,-19.4 -41.0,-22.4 -39.0,-25.4 -36.8,-28.3 -34.5,-31.3 -32.2,-34.2 -30.0,-37.0 -27.9,-39.7 -25.9,-42.3 -24.0,-44.7 -22.1,-46.8 -20.2,-48.5 -18.3,-49.9 -16.4,-50.8 -14.5,-51.2 -12.5,-51.2 -10.5,-50.8 -8.4,-50.0 -6.2,-49.1 -4.0,-48.1 -1.7,-47.3 0.6,-46.8 3.0,-46.6 5.4,-46.7 7.8,-47.1 10.2,-47.7 12.6,-48.3 15.1,-48.7 17.5,-48.9 19.8,-48.7 22.1,-48.2 24.2,-47.3 26.3,-46.0 28.2,-44.3 29.8,-42.3 31.3,-40.1 32.6,-37.6 33.6,-34.9 34.4,-32.0 35.1,-29.1 35.7,-26.0 36.3,-22.9 37.0,-19.7 37.9,-16.5 38.9,-13.2 40.2,-10.0 41.6,-6.7 43.2,-3.4 44.7,-0.0 46.0,3.3 47.1,6.7 47.6,10.1" fill="none" stroke="#000" stroke-width="1.6" stroke-linejoin="round"/>
<polyline points="50.1,10.2 50.1,13.8 49.6,17.3 48.5,20.9 47.1,24.4 45.5,27.9 43.9,31.3 42.5,34.6 41.2,37.8 40.3,40.9 39.5,43.8 38.9,46.5 38.3,49.0 37.6,51.4 36.7,53.5 35.6,55.5 34.2,57.4 32.5,59.2 30.6,60.9 28.4,62.7 26.1,64.5 23.7,66.3 21.1,68.2 18.5,70.0 15.9,71.7 13.3,73.3 10.7,74.7 8.2,75.7 5.6,76.3 3.2,76.4 0.8,76.2 -1.6,75.5 -3.9,74.5 -6.1,73.2 -8.3,71.8 -10.4,70.2 -12.4,68.7 -14.5,67.1 -16.4,65.7 -18.4,64.3 -20.4,63.0 -22.4,61.6 -24.5,60.3 -26.7,58.8 -28.9,57.2 -31.3,55.4 -33.7,53.4 -36.1,51.3 -38.4,48.8 -40.6,46.2 -42.5,43.4 -44.1,40.4 -45.2,37.2 -45.9,34.0 -46.2,30.6 -46.0,27.1 -45.7,23.6 -45.3,20.0 -44.9,16.4 -44.8,12.8 -45.0,9.2 -45.5,5.7 -46.2,2.1 -47.0,-1.4 -47.6,-4.8 -48.0,-8.2 -47.9,-11.5 -47.4,-14.7 -46.3,-17.9 -44.7,-21.0 -42.7,-24.1 -40.5,-27.1 -38.1,-30.1 -35.8,-33.1 -33.5,-36.1 -31.4,-39.0 -29.4,-41.9 -27.4,-44.6 -25.6,-47.2 -23.8,-49.6 -22.0,-51.6 -20.1,-53.2 -18.2,-54.4 -16.3,-55.1 -14.2,-55.2 -12.1,-54.8 -9.9,-54.1 -7.6,-53.0 -5.3,-51.9 -2.9,-51.0 -0.4,-50.2 2.1,-49.9 4.6,-50.0 7.1,-50.4 9.7,-51.0 12.3,-51.7 14.9,-52.2 17.5,-52.4 20.1,-52.2 22.6,-51.6 25.1,-50.5 27.4,-49.0 29.5,-47.1 31.5,-44.9 33.3,-42.4 34.8,-39.6 36.0,-36.7 36.9,-33.6 37.7,-30.5 38.3,-27.3 38.8,-24.0 39.4,-20.7 40.2,-17.4 41.1,-14.0 42.3,-10.7 43.7,-7.3 45.3,-3.8 46.9,-0.4 48.3,3.1 49.4,6.7 50.1,10.2" fill="none" stroke="#000" stroke-width="1.6" stroke-linejoin="round"/>
<polyline points="52.5,10.0 52.5,13.8 51.9,17.5 50.8,21.3 49.3,25.0 47.6,28.8 46.0,32.4 44.6,36.0 43.4,39.4 42.6,42.8 42.0,45.9 41.4,48.9 40.8,51.6 40.1,54.1 39.1,56.4 37.7,58.5 36.1,60.4 34.1,62.2 31.9,63.9 29.4,65.7 26.8,67.4 24.1,69.2 21.3,71.1 18.5,73.0 15.8,74.8 13.0,76.5 10.2,77.9 7.5,79.0 4.9,79.7 2.3,79.9 -0.3,79.6 -2.8,78.9 -5.2,77.8 -7.5,76.5 -9.8,75.0 -11.9,73.4 -14.0,71.8 -16.1,70.3 -18.0,68.9 -20.0,67.5 -21.9,66.2 -23.8,64.9 -25.8,63.5 -27.9,61.9 -30.1,60.2 -32.4,58.3 -34.8,56.1 -37.3,53.7 -39.7,51.1 -42.1,48.2 -44.3,45.1 -46.1,41.8 -47.5,38.4 -48.3,34.8 -48.7,31.2 -48.6,27.4 -48.3,23.7 -47.8,19.9 -47.4,16.1 -47.2,12.3 -47.4,8.5 -47.9,4.8 -48.7,1.1 -49.5,-2.6 -50.2,-6.1 -50.5,-9.7 -50.4,-13.1 -49.6,-16.4 -48.3,-19.7 -46.5,-22.9 -44.3,-26.0 -41.9,-29.1 -39.5,-32.1 -37.2,-35.1 -35.0,-38.1 -32.9,-41.1 -31.0,-44.0 -29.2,-46.9 -27.5,-49.7 -25.7,-52.2 -23.9,-54.5 -22.1,-56.5 -20.1,-57.9 -18.1,-58.8 -15.9,-59.1 -13.7,-58.8 -11.4,-58.1 -9.0,-57.0 -6.5,-55.8 -4.0,-54.6 -1.4,-53.7 1.2,-53.3 3.8,-53.3 6.5,-53.7 9.2,-54.3 11.9,-55.1 14.7,-55.6 17.4,-55.8 20.2,-55.6 22.9,-54.9 25.6,-53.6 28.2,-51.9 30.7,-49.8 33.0,-47.3 35.0,-44.5 36.8,-41.6 38.2,-38.5 39.4,-35.2 40.2,-31.9 40.9,-28.6 41.4,-25.2 41.9,-21.9 42.5,-18.5 43.3,-15.0 44.5,-11.6 45.9,-8.1 47.5,-4.5 49.1,-1.0 50.6,2.7 51.8,6.3 52.5,10.0" fill="none" stroke="#000" stroke-width="1.6" stroke-linejoin="round"/>
<polyline points="54.9,9.6 54.9,13.6 54.2,17.5 53.0,21.5 51.4,25.5 49.7,29.4 48.1,33.3 46.7,37.1 45.7,40.9 45.0,44.5 44.5,47.9 44.0,51.1 43.4,54.1 42.5,56.8 41.3,59.2 39.7,61.5 37.8,63.5 35.5,65.3 32.9,67.0 30.2,68.7 27.3,70.4 24.4,72.2 21.4,74.1 18.4,76.0 15.5,77.8 12.6,79.6 9.7,81.1 6.9,82.3 4.1,83.1 1.4,83.3 -1.3,83.1 -3.9,82.3 -6.4,81.2 -8.9,79.8 -11.3,78.2 -13.6,76.6 -15.8,75.0 -17.9,73.5 -19.9,72.1 -21.8,70.8 -23.7,69.5 -25.5,68.1 -27.4,66.7 -29.4,65.1 -31.5,63.3 -33.7,61.1 -36.0,58.7 -38.5,56.1 -41.1,53.1 -43.6,49.9 -46.0,46.5 -48.0,43.0 -49.6,39.3 -50.7,35.5 -51.2,31.6 -51.2,27.7 -50.9,23.7 -50.3,19.7 -49.9,15.7 -49.7,11.7 -49.8,7.8 -50.4,3.9 -51.2,-0.0 -52.1,-3.8 -52.8,-7.6 -53.0,-11.2 -52.7,-14.8 -51.8,-18.3 -50.2,-21.6 -48.2,-24.9 -45.9,-28.1 -43.4,-31.2 -41.0,-34.2 -38.7,-37.2 -36.6,-40.2 -34.7,-43.2 -32.9,-46.2 -31.2,-49.2 -29.6,-52.1 -27.8,-54.9 -26.0,-57.4 -24.1,-59.6 -22.1,-61.3 -19.9,-62.4 -17.6,-62.9 -15.2,-62.8 -12.7,-62.1 -10.1,-60.9 -7.5,-59.6 -4.8,-58.3 -2.2,-57.3 0.6,-56.7 3.3,-56.6 6.0,-57.0 8.8,-57.7 11.6,-58.5 14.5,-59.1 17.3,-59.3 20.2,-59.0 23.1,-58.1 26.0,-56.6 28.8,-54.7 31.6,-52.3 34.1,-49.6 36.5,-46.7 38.6,-43.5 40.3,-40.2 41.7,-36.9 42.8,-33.5 43.5,-30.1 44.0,-26.6 44.4,-23.2 44.9,-19.7 45.6,-16.2 46.7,-12.7 48.0,-9.1 49.6,-5.5 51.3,-1.8 53.0,2.0 54.2,5.8 54.9,9.6" fill="none" stroke="#000" stroke-width="1.6" stroke-linejoin="round"/>
<polyline points="57.3,9.1 57.3,13.2 56.6,17.3 55.2,21.5 53.5,25.7 51.8,29.8 50.2,34.0 48.9,38.1 48.1,42.1 47.5,45.9 47.1,49.6 46.6,53.1 45.9,56.4 44.9,59.4 43.4,62.0 41.5,64.4 39.2,66.5 36.6,68.4 33.8,70.2 30.7,71.8 27.7,73.5 24.5,75.2 21.4,77.1 18.4,79.0 15.3,80.9 12.3,82.7 9.4,84.4 6.5,85.7 3.6,86.5 0.7,86.8 -2.1,86.5 -4.8,85.7 -7.5,84.6 -10.2,83.1 -12.7,81.4 -15.2,79.8 -17.5,78.2 -19.7,76.7 -21.8,75.3 -23.8,74.1 -25.7,72.8 -27.5,71.4 -29.3,69.9 -31.1,68.2 -33.1,66.2 -35.1,63.9 -37.4,61.2 -39.8,58.2 -42.4,55.0 -45.1,51.5 -47.6,47.9 -49.9,44.0 -51.7,40.1 -53.0,36.1 -53.7,32.0 -53.8,27.8 -53.4,23.7 -52.9,19.5 -52.3,15.4 -52.1,11.2 -52.2,7.1 -52.8,3.0 -53.7,-1.1 -54.6,-5.1 -55.3,-9.0 -55.5,-12.9 -55.1,-16.6 -53.9,-20.2 -52.1,-23.7 -49.9,-27.1 -47.4,-30.3 -44.9,-33.4 -42.5,-36.5 -40.3,-39.5 -38.4,-42.5 -36.6,-45.5 -35.0,-48.5 -33.4,-51.5 -31.8,-54.5 -30.0,-57.4 -28.2,-60.1 -26.1,-62.5 -23.9,-64.5 -21.5,-65.9 -19.0,-66.6 -16.4,-66.6 -13.7,-65.9 -10.9,-64.7 -8.2,-63.3 -5.4,-61.9 -2.6,-60.8 0.3,-60.1 3.1,-60.1 5.9,-60.5 8.7,-61.2 11.6,-62.0 14.4,-62.6 17.3,-62.7 20.3,-62.3 23.3,-61.3 26.3,-59.6 29.3,-57.4 32.3,-54.8 35.1,-51.9 37.8,-48.7 40.2,-45.4 42.3,-42.0 43.9,-38.6 45.2,-35.1 46.1,-31.6 46.6,-28.2 47.0,-24.7 47.4,-21.2 48.0,-17.7 48.9,-14.1 50.2,-10.4 51.8,-6.7 53.6,-2.9 55.3,1.0 56.6,5.0 57.3,9.1" fill="none" stroke="#000" stroke-width="1.6" stroke-linejoin="round"/>
</g></g>
<g id="chip">
<path d="M213.5,256.5 L418.5,256.5 A11,11 0 0 0 429.5,267.5 L429.5,405.5 A11,11 0 0 0 418.5,416.5 L213.5,416.5 A11,11 0 0 0 202.5,405.5 L202.5,267.5 A11,11 0 0 0 213.5,256.5 Z" fill="#9dd0b5" stroke="#1c1c1c" stroke-width="2.6"/>
<polyline points="225,282 252,291" fill="none" stroke="#aef2cc" stroke-width="2.4" stroke-linejoin="round"/>
<polyline points="209,298 226,312 252,320" fill="none" stroke="#aef2cc" stroke-width="2.4" stroke-linejoin="round"/>
<polyline points="207,312 222,336 252,342" fill="none" stroke="#aef2cc" stroke-width="2.4" stroke-linejoin="round"/>
<polyline points="207,330 220,345 252,354" fill="none" stroke="#aef2cc" stroke-width="2.4" stroke-linejoin="round"/>
<polyline points="209,382 232,372 252,370" fill="none" stroke="#aef2cc" stroke-width="2.4" stroke-linejoin="round"/>
<polyline points="209,398 236,384 252,384" fill="none" stroke="#aef2cc" stroke-width="2.4" stroke-linejoin="round"/>
<polyline points="226,300 252,305" fill="none" stroke="#aef2cc" stroke-width="2.4" stroke-linejoin="round"/>
<polyline points="403,264 386.6,276 386.6,386" fill="none" stroke="#aef2cc" stroke-width="2.4" stroke-linejoin="round"/>
<polyline points="391,333 427,290" fill="none" stroke="#aef2cc" stroke-width="2.4" stroke-linejoin="round"/>
<polyline points="391,350 427,312" fill="none" stroke="#aef2cc" stroke-width="2.4" stroke-linejoin="round"/>
<polyline points="395,366 427,338" fill="none" stroke="#aef2cc" stroke-width="2.4" stroke-linejoin="round"/>
<polyline points="396,384 427,356" fill="none" stroke="#aef2cc" stroke-width="2.4" stroke-linejoin="round"/>
<polyline points="412,314 427,300" fill="none" stroke="#aef2cc" stroke-width="2.4" stroke-linejoin="round"/>
<polyline points="412,348 427,330" fill="none" stroke="#aef2cc" stroke-width="2.4" stroke-linejoin="round"/>
<rect x="253" y="274.5" width="130" height="128" fill="#8bb499"/>
<rect x="254.5" y="276" width="121" height="121.3" fill="#c9c6d3"/>
<rect x="260" y="282.3" width="115.5" height="115" fill="url(#glow)"/>
<circle cx="316.2" cy="338.8" r="48" fill="url(#halo)"/>
<line x1="347.2" y1="338.0" x2="359.1" y2="337.7" stroke="#6a78ff" stroke-opacity="0.3" stroke-width="1.5"/>
<line x1="346.9" y1="343.3" x2="359.2" y2="345.0" stroke="#6a78ff" stroke-opacity="0.3" stroke-width="1.5"/>
<line x1="345.6" y1="348.7" x2="352.7" y2="351.2" stroke="#6a78ff" stroke-opacity="0.3" stroke-width="1.5"/>
<line x1="344.5" y1="351.5" x2="357.7" y2="357.5" stroke="#6a78ff" stroke-opacity="0.3" stroke-width="1.5"/>
<line x1="341.7" y1="356.4" x2="349.2" y2="361.6" stroke="#6a78ff" stroke-opacity="0.3" stroke-width="1.5"/>
<line x1="337.0" y1="361.8" x2="344.5" y2="370.1" stroke="#6a78ff" stroke-opacity="0.3" stroke-width="1.5"/>
<line x1="333.6" y1="364.5" x2="339.9" y2="373.8" stroke="#6a78ff" stroke-opacity="0.3" stroke-width="1.5"/>
<line x1="329.9" y1="366.6" x2="333.6" y2="374.1" stroke="#6a78ff" stroke-opacity="0.3" stroke-width="1.5"/>
<line x1="325.4" y1="368.4" x2="329.8" y2="382.6" stroke="#6a78ff" stroke-opacity="0.3" stroke-width="1.5"/>
<line x1="321.0" y1="369.4" x2="323.1" y2="382.9" stroke="#6a78ff" stroke-opacity="0.3" stroke-width="1.5"/>
<line x1="315.7" y1="369.8" x2="315.5" y2="377.4" stroke="#6a78ff" stroke-opacity="0.3" stroke-width="1.5"/>
<line x1="310.6" y1="369.3" x2="308.3" y2="381.4" stroke="#6a78ff" stroke-opacity="0.3" stroke-width="1.5"/>
<line x1="307.2" y1="368.5" x2="305.1" y2="375.4" stroke="#6a78ff" stroke-opacity="0.3" stroke-width="1.5"/>
<line x1="301.1" y1="365.9" x2="295.7" y2="375.7" stroke="#6a78ff" stroke-opacity="0.3" stroke-width="1.5"/>
<line x1="297.4" y1="363.5" x2="288.4" y2="375.3" stroke="#6a78ff" stroke-opacity="0.3" stroke-width="1.5"/>
<line x1="293.8" y1="360.2" x2="282.8" y2="370.8" stroke="#6a78ff" stroke-opacity="0.3" stroke-width="1.5"/>
<line x1="291.3" y1="357.3" x2="279.9" y2="365.8" stroke="#6a78ff" stroke-opacity="0.3" stroke-width="1.5"/>
<line x1="288.7" y1="353.0" x2="275.0" y2="360.1" stroke="#6a78ff" stroke-opacity="0.3" stroke-width="1.5"/>
<line x1="286.4" y1="347.3" x2="278.8" y2="349.4" stroke="#6a78ff" stroke-opacity="0.3" stroke-width="1.5"/>
<line x1="285.8" y1="344.8" x2="277.0" y2="346.5" stroke="#6a78ff" stroke-opacity="0.3" stroke-width="1.5"/>
<line x1="285.2" y1="337.4" x2="274.3" y2="336.8" stroke="#6a78ff" stroke-opacity="0.3" stroke-width="1.5"/>
<line x1="285.6" y1="333.6" x2="276.1" y2="331.9" stroke="#6a78ff" stroke-opacity="0.3" stroke-width="1.5"/>
<line x1="286.7" y1="329.2" x2="276.8" y2="326.0" stroke="#6a78ff" stroke-opacity="0.3" stroke-width="1.5"/>
<line x1="288.4" y1="325.1" x2="277.4" y2="319.7" stroke="#6a78ff" stroke-opacity="0.3" stroke-width="1.5"/>
<line x1="291.3" y1="320.4" x2="279.1" y2="311.4" stroke="#6a78ff" stroke-opacity="0.3" stroke-width="1.5"/>
<line x1="294.7" y1="316.5" x2="284.0" y2="305.4" stroke="#6a78ff" stroke-opacity="0.3" stroke-width="1.5"/>
<line x1="298.9" y1="313.1" x2="290.0" y2="299.9" stroke="#6a78ff" stroke-opacity="0.3" stroke-width="1.5"/>
<line x1="302.6" y1="310.9" x2="298.9" y2="303.3" stroke="#6a78ff" stroke-opacity="0.3" stroke-width="1.5"/>
<line x1="307.7" y1="309.0" x2="303.4" y2="293.9" stroke="#6a78ff" stroke-opacity="0.3" stroke-width="1.5"/>
<line x1="312.6" y1="308.0" x2="311.2" y2="296.0" stroke="#6a78ff" stroke-opacity="0.3" stroke-width="1.5"/>
<line x1="316.9" y1="307.8" x2="317.1" y2="298.9" stroke="#6a78ff" stroke-opacity="0.3" stroke-width="1.5"/>
<line x1="322.1" y1="308.4" x2="324.4" y2="296.4" stroke="#6a78ff" stroke-opacity="0.3" stroke-width="1.5"/>
<line x1="325.1" y1="309.1" x2="327.3" y2="301.9" stroke="#6a78ff" stroke-opacity="0.3" stroke-width="1.5"/>
<line x1="331.2" y1="311.7" x2="339.0" y2="297.8" stroke="#6a78ff" stroke-opacity="0.3" stroke-width="1.5"/>
<line x1="333.4" y1="313.0" x2="341.2" y2="301.2" stroke="#6a78ff" stroke-opacity="0.3" stroke-width="1.5"/>
<line x1="337.9" y1="316.7" x2="343.8" y2="310.7" stroke="#6a78ff" stroke-opacity="0.3" stroke-width="1.5"/>
<line x1="340.9" y1="320.1" x2="352.0" y2="311.7" stroke="#6a78ff" stroke-opacity="0.3" stroke-width="1.5"/>
<line x1="344.3" y1="325.8" x2="351.0" y2="322.7" stroke="#6a78ff" stroke-opacity="0.3" stroke-width="1.5"/>
<line x1="345.8" y1="329.6" x2="352.9" y2="327.4" stroke="#6a78ff" stroke-opacity="0.3" stroke-width="1.5"/>
<line x1="346.9" y1="334.6" x2="356.8" y2="333.3" stroke="#6a78ff" stroke-opacity="0.3" stroke-width="1.5"/>
<polygon points="346.2,337.2 353.5,341.6 345.6,344.9 345.8,343.5 352.2,349.4 343.6,350.9 343.8,350.6 346.1,356.5 339.8,357.3 338.2,359.2 338.3,365.4 332.2,364.2 333.6,363.2 333.0,370.3 326.7,366.9 323.6,367.9 320.4,373.5 315.9,368.8 318.6,368.7 314.3,375.9 310.8,368.3 308.5,367.8 301.9,373.4 301.3,364.8 297.7,362.4 290.8,363.8 292.3,356.9 293.4,358.3 286.0,358.5 289.2,351.8 288.4,350.1 281.1,348.0 286.4,342.6 286.4,342.3 279.8,338.4 286.5,334.6 287.1,331.6 282.7,325.6 289.9,324.3 288.9,326.4 285.1,319.4 293.0,319.8 292.8,320.1 291.6,313.3 298.4,314.7 302.8,312.0 304.4,304.7 310.2,309.4 308.4,309.8 311.6,304.6 316.1,308.8 316.1,308.8 320.7,302.8 323.8,309.8 322.2,309.4 328.1,304.4 329.6,312.0 333.4,314.2 339.6,313.2 339.1,319.5 339.6,320.0 346.9,320.2 343.6,326.7 344.1,327.7 350.7,330.0 346.0,335.2" fill="#3a2212"/>
<circle cx="316.2" cy="338.8" r="29" fill="#dcd8fa" stroke="#000" stroke-width="3.7"/>
<rect x="216.6" y="273.5" width="10" height="10" rx="0.8" fill="#000"/>
<rect x="216.6" y="299.5" width="10" height="10" rx="0.8" fill="#000"/>
<rect x="216.6" y="331" width="10" height="10" rx="0.8" fill="#000"/>
<rect x="216.6" y="349" width="10" height="10" rx="0.8" fill="#000"/>
<rect x="216.6" y="392.6" width="10" height="10" rx="0.8" fill="#000"/>
<polyline points="250.7,315.4 269,315.4" fill="none" stroke="#f4b136" stroke-width="3.1" stroke-linejoin="round"/>
<circle cx="250.7" cy="315.4" r="4.6" fill="#f4b136"/>
<circle cx="269" cy="315.4" r="4.6" fill="#f4b136"/>
<polyline points="220.6,321.7 250,331 269,331" fill="none" stroke="#f4b136" stroke-width="3.1" stroke-linejoin="round"/>
<circle cx="220.6" cy="321.7" r="4.6" fill="#f4b136"/>
<circle cx="269" cy="331" r="4.6" fill="#f4b136"/>
<polyline points="250.7,347.1 269,347.1" fill="none" stroke="#f4b136" stroke-width="3.1" stroke-linejoin="round"/>
<circle cx="250.7" cy="347.1" r="4.6" fill="#f4b136"/>
<circle cx="269" cy="347.1" r="4.6" fill="#f4b136"/>
<polyline points="220.6,378 250,362.6 269,362.6" fill="none" stroke="#f4b136" stroke-width="3.1" stroke-linejoin="round"/>
<circle cx="220.6" cy="378" r="4.6" fill="#f4b136"/>
<circle cx="269" cy="362.6" r="4.6" fill="#f4b136"/>
<polyline points="361,315.4 388.8,315.4 410,296.1" fill="none" stroke="#f4b136" stroke-width="3.1" stroke-linejoin="round"/>
<circle cx="361" cy="315.4" r="4.6" fill="#f4b136"/>
<circle cx="410" cy="296.1" r="4.6" fill="#f4b136"/>
<polyline points="361,331 388.8,331" fill="none" stroke="#f4b136" stroke-width="3.1" stroke-linejoin="round"/>
<circle cx="361" cy="331" r="4.6" fill="#f4b136"/>
<circle cx="388.8" cy="331" r="4.6" fill="#f4b136"/>
<polyline points="361,347.1 388.8,347.1 410,366.2" fill="none" stroke="#f4b136" stroke-width="3.1" stroke-linejoin="round"/>
<circle cx="361" cy="347.1" r="4.6" fill="#f4b136"/>
<circle cx="410" cy="366.2" r="4.6" fill="#f4b136"/>
<polyline points="361,362.6 388.8,362.6" fill="none" stroke="#f4b136" stroke-width="3.1" stroke-linejoin="round"/>
<circle cx="361" cy="362.6" r="4.6" fill="#f4b136"/>
<circle cx="388.8" cy="362.6" r="4.6" fill="#f4b136"/>
<circle cx="410" cy="313.9" r="3.8" fill="none" stroke="#9aa8a0" stroke-width="1.5"/>
<circle cx="410" cy="331" r="3.8" fill="none" stroke="#9aa8a0" stroke-width="1.5"/>
<circle cx="410" cy="348" r="3.8" fill="none" stroke="#9aa8a0" stroke-width="1.5"/>
<circle cx="202.5" cy="256.5" r="5.2" fill="#f2b640" stroke="#222" stroke-width="2"/>
<circle cx="429.5" cy="256.5" r="5.2" fill="#f2b640" stroke="#222" stroke-width="2"/>
<circle cx="202.5" cy="416.5" r="5.2" fill="#f2b640" stroke="#222" stroke-width="2"/>
<circle cx="429.5" cy="416.5" r="5.2" fill="#f2b640" stroke="#222" stroke-width="2"/>
</g>
</defs>
<rect x="-20" y="-20" width="1960" height="552" fill="#fff"/>
<rect x="7.5" y="-20" width="771.5" height="552" fill="#f9e8e5"/>
<rect x="1142.8" y="-20" width="771.7" height="552" fill="#e3f8f2"/>
<path d="M351,52 L788,52 C803,52 807,60 809,78 L820,175 C823,192 832,196.8 850,196.8 L871,196.8" fill="none" stroke="#a9378e" stroke-width="4"/>
<path d="M380,120.4 L770,120.4 C785,120.4 790,124 793,135 L805,178 C809,192 815,196.8 835,196.8 L871,196.8" fill="none" stroke="#a9378e" stroke-width="4"/>
<polygon points="358,120 382,106.6 382,133" fill="#a9378e"/>
<path d="M1537,52 L1140,52 C1120,52 1113,62 1111,85 L1102.5,170 C1100,190 1092,196.8 1072,196.8 L1050,196.8" fill="none" stroke="#a9378e" stroke-width="4"/>
<path d="M1570,120.4 L1146,120.4 C1133,120.4 1128,129 1126,142 L1120,175 C1117,191 1109,196.8 1090,196.8 L1050,196.8" fill="none" stroke="#a9378e" stroke-width="4"/>
<polygon points="1561,51.5 1536.5,37.6 1536.5,65.7" fill="#a9378e"/>
<path d="M871,207.8 L830,207.8 C812,207.8 801,218 797,245 C793,270 792,290 787,315 C777,360 740,387.5 680,387.5 L288.9,387.5" fill="none" stroke="#e00462" stroke-width="4.6"/>
<path d="M600,387.5 L652,387.5 C715,389 749,415 749,456 C749,482 728,503 690,518" fill="none" stroke="#e00462" stroke-width="4.6"/>
<path d="M871,216.8 L850,216.8 C830,216.8 818,225 815,255 C812,285 810,300 806,318 C795,365 760,390 715.6,408.8 C680,424 590,460 510,520" fill="none" stroke="url(#redfade)" stroke-width="4"/>
<path d="M1050,208 L1095,208 C1115,208 1124,218 1127,250 C1131,290 1133,340 1140,375 C1148,412 1185,437 1230,451 L1392,518" fill="none" stroke="#e00462" stroke-width="4.6"/>
<path d="M1285,389 C1195,389 1162,412 1162,458 C1162,482 1171,500 1186,516" fill="none" stroke="#f9abae" stroke-width="3.8"/>
<path d="M1050,217.8 L1080,217.8 C1098,217.8 1106,228 1107.5,255 L1111,340 C1112,375 1120,388 1150,388 L1566.8,388" fill="none" stroke="#d40404" stroke-width="4.5"/>
<rect x="906" y="192.3" width="108" height="26.6" fill="#000"/>
<path d="M871,176.5 L906,187 L906,224.5 L871,235 Z" fill="#fff" stroke="#000" stroke-width="3.6" stroke-linejoin="miter"/>
<path d="M1049.5,176.5 L1014.5,187 L1014.5,224.5 L1049.5,235 Z" fill="#fff" stroke="#000" stroke-width="3.6" stroke-linejoin="miter"/>
<use href="#icon" x="11.5" y="6" color="#f9e8e5"/>
<rect x="188.5" y="9.3" width="160.2" height="152.6" fill="none" stroke="#000" stroke-width="4.6"/>
<use href="#fp" x="268" y="85"/>
<use href="#icon" x="1736" y="1" color="#e3f8f2"/>
<rect x="1571.6" y="3.3" width="159" height="153.2" fill="none" stroke="#000" stroke-width="4.6"/>
<use href="#fp" x="1650.3" y="79.7"/>
<rect x="11.3" y="221.5" width="171.7" height="134.2" fill="none" stroke="#000" stroke-width="4.4"/>
<rect x="190.3" y="186" width="320.4" height="242.6" fill="#e6e4fc" stroke="#000" stroke-width="5"/>
<use href="#chip"/>
<rect x="1388.2" y="186" width="320.5" height="242.9" fill="#e6e4fc" stroke="#000" stroke-width="5"/>
<use href="#chip" x="1199" y="0.5"/>
<rect x="1717.6" y="228.9" width="172.6" height="134.6" fill="none" stroke="#000" stroke-width="4.4"/>
<circle cx="54.5" cy="293.8" r="15" fill="url(#laser)"/>
<polygon points="66.4,293.8 58.0,294.3 66.1,297.6 57.6,295.4 60.3,298.0 57.0,296.3 58.9,299.8 56.1,296.9 58.1,305.0 55.0,297.3 54.5,307.5 54.0,297.3 51.8,302.1 52.9,296.9 48.5,302.0 52.0,296.3 45.5,300.4 51.4,295.4 45.7,296.7 51.0,294.3 45.0,293.8 51.0,293.3 45.8,291.0 51.4,292.2 46.7,288.2 52.0,291.3 47.9,284.8 52.9,290.7 51.7,285.1 54.0,290.3 54.5,284.2 55.0,290.3 58.3,282.0 56.1,290.7 58.7,288.0 57.0,291.3 63.4,287.3 57.6,292.2 66.1,290.0 58.0,293.3" fill="#5a3c82" fill-opacity="0.5"/>
<circle cx="54.5" cy="293.8" r="3.8" fill="#140a1c"/>
<line x1="54.5" y1="293.8" x2="348.3" y2="293.8" stroke="#000" stroke-width="3.8"/>
<circle cx="1839.1" cy="295.8" r="15" fill="url(#laser)"/>
<polygon points="1848.3,295.8 1842.6,296.3 1847.2,298.4 1842.2,297.4 1849.3,303.2 1841.6,298.3 1844.2,302.8 1840.7,298.9 1841.7,303.7 1839.6,299.3 1839.1,305.8 1838.6,299.3 1835.4,307.1 1837.5,298.9 1834.6,302.0 1836.6,298.3 1831.6,301.2 1836.0,297.4 1830.2,298.7 1835.6,296.3 1826.3,295.8 1835.6,295.3 1829.5,292.7 1836.0,294.2 1828.6,288.2 1836.6,293.3 1834.3,289.2 1837.5,292.7 1836.2,286.9 1838.6,292.3 1839.1,284.2 1839.6,292.3 1843.2,283.3 1840.7,292.7 1845.1,287.6 1841.6,293.3 1846.0,290.8 1842.2,294.2 1846.6,293.4 1842.6,295.3" fill="#5a3c82" fill-opacity="0.5"/>
<circle cx="1839.1" cy="295.8" r="3.8" fill="#140a1c"/>
<line x1="1839" y1="295.8" x2="1484.8" y2="295.8" stroke="#000" stroke-width="3.8"/>
<line x1="288.9" y1="387.5" x2="520" y2="387.5" stroke="#e00462" stroke-width="4.6"/>
<line x1="1380" y1="388" x2="1566.8" y2="388" stroke="#d40404" stroke-width="4.5"/>
<text transform="translate(431.4,101) scale(1.0,1)" x="0" y="0" font-size="25.5" fill="#f2502e" stroke="#f2502e" stroke-width="0.42" textLength="68.80" lengthAdjust="spacingAndGlyphs">ALICE</text>
<text transform="translate(1415.8,100.6) scale(1.0,1)" x="0" y="0" font-size="25.5" fill="#0c8282" stroke="#0c8282" stroke-width="0.42" textLength="47.40" lengthAdjust="spacingAndGlyphs">BOB</text>
<text transform="translate(20.1,249.3) scale(1.06,1)" x="0" y="0" font-size="24" fill="#000" stroke="#000" stroke-width="0.42" textLength="68.58" lengthAdjust="spacing">Laser</text>
<text transform="translate(1731.6,251) scale(1.06,1)" x="0" y="0" font-size="24" fill="#000" stroke="#000" stroke-width="0.42" textLength="68.58" lengthAdjust="spacing">Laser</text>
<text transform="translate(216.2,213.8) scale(1.06,1)" x="0" y="0" font-size="24.4" fill="#000" stroke="#000" stroke-width="0.42" textLength="226.79" lengthAdjust="spacing">Entangled photon</text>
<text transform="translate(216.2,242.7) scale(1.06,1)" x="0" y="0" font-size="24.4" fill="#000" stroke="#000" stroke-width="0.42" textLength="142.55" lengthAdjust="spacing">pair source</text>
<text transform="translate(1416,213.6) scale(1.06,1)" x="0" y="0" font-size="24.4" fill="#000" stroke="#000" stroke-width="0.42" textLength="226.79" lengthAdjust="spacing">Entangled photon</text>
<text transform="translate(1416,242.5) scale(1.06,1)" x="0" y="0" font-size="24.4" fill="#000" stroke="#000" stroke-width="0.42" textLength="142.55" lengthAdjust="spacing">pair source</text>
<text transform="translate(869,273.3) scale(1.06,1)" x="0" y="0" font-size="24.2" fill="#000" stroke="#000" stroke-width="0.42" textLength="173.30" lengthAdjust="spacing">Bi-directional</text>
<text transform="translate(883.1,303.6) scale(1.06,1)" x="0" y="0" font-size="24.2" fill="#000" stroke="#000" stroke-width="0.42" textLength="138.77" lengthAdjust="spacing">Classical &amp;</text>
<text transform="translate(839.8,333.9) scale(1.06,1)" x="0" y="0" font-size="24.2" fill="#000" stroke="#000" stroke-width="0.42" textLength="229.43" lengthAdjust="spacing">Quantum Channel</text>
<polygon points="822.5,85 886,37.5 886,55.3 1035,55.3 1035,37.5 1098,85 1035,132.7 1035,115 886,115 886,132.7" fill="#000"/>
<polygon points="843,85 873,62.5 876,62.5 876,67.6 1045,67.6 1045,62.5 1048,62.5 1078,85 1048,107.5 1045,107.5 1045,102.6 876,102.6 876,107.5 873,107.5" fill="#fff"/>
<text transform="translate(861,94.3) scale(1.06,1)" x="0" y="0" font-size="25.5" fill="#000" stroke="#000" stroke-width="0.42" textLength="188.68" lengthAdjust="spacing">Authentication</text>
<rect x="778.3" y="503" width="365" height="30" fill="#fff" stroke="#000" stroke-width="5.2"/>
<polygon points="750.6,446.5 840.5,371.6 840.5,399 1081.4,399 1081.4,371.6 1170.4,446.5 1081.4,521.4 1081.4,493.8 840.5,493.8 840.5,521.4" fill="#000"/>
<polygon points="768.7,446.5 827.2,397.8 827.2,410.6 1094.6,410.6 1094.6,397.8 1151,446.5 1094.6,495.2 1094.6,481.8 827.2,481.8 827.2,495.2" fill="#fff"/>
<text transform="translate(797.9,440.2) scale(1.06,1)" x="0" y="0" font-size="25" fill="#000" stroke="#000" stroke-width="0.42" textLength="306.70" lengthAdjust="spacing">Time Synchronization &amp;</text>
<text transform="translate(797.9,470.8) scale(1.06,1)" x="0" y="0" font-size="25" fill="#000" stroke="#000" stroke-width="0.42" textLength="306.70" lengthAdjust="spacing">Quantum Time Transfer</text>
</svg></body></html>
